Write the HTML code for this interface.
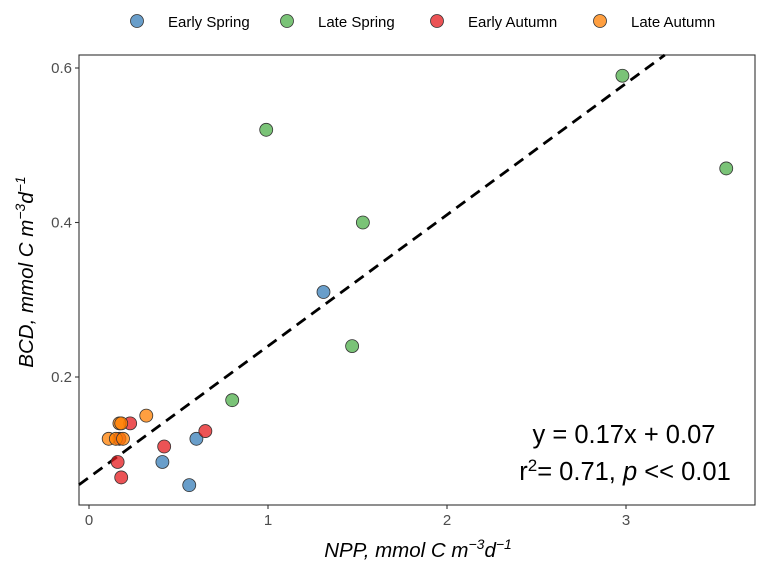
<!DOCTYPE html>
<html><head><meta charset="utf-8"><style>
body{margin:0;background:#fff;font-family:"Liberation Sans",Arial,sans-serif}
</style></head><body>
<svg id="chart" width="768" height="576" xmlns="http://www.w3.org/2000/svg" font-family="Liberation Sans, Arial, sans-serif">
<g id="legend"></g>
<rect x="79" y="55" width="676" height="450" fill="none" stroke="#333" stroke-width="1.1"/>
<g id="axes"></g>
<g id="fit"></g>
<g id="points"></g>
<text x="624" y="443" text-anchor="middle" font-size="25.5">y = 0.17x + 0.07</text>
<text x="625" y="480" text-anchor="middle" font-size="25.5">r<tspan dy="-9" font-size="17">2</tspan><tspan dy="9">= 0.71, </tspan><tspan font-style="italic">p</tspan> &lt;&lt; 0.01</text>
<text x="418" y="557" text-anchor="middle" font-size="20.5" font-style="italic">NPP, mmol C m<tspan dy="-8" font-size="14">−3</tspan><tspan dy="8">d</tspan><tspan dy="-8" font-size="14">−1</tspan></text>
<text transform="translate(33,272) rotate(-90)" text-anchor="middle" font-size="20.5" font-style="italic">BCD, mmol C m<tspan dy="-8" font-size="14">−3</tspan><tspan dy="8">d</tspan><tspan dy="-8" font-size="14">−1</tspan></text>
</svg>
<script>
const seriesNames=["Early Spring","Late Spring","Early Autumn","Late Autumn"];
const seriesColors=["#377EB8","#4DAF4A","#E41A1C","#FF7F00"];
const earlySpringX=[1.31,0.6,0.41,0.56];
const earlySpringY=[0.31,0.12,0.09,0.06];
const lateSpringX=[0.99,2.98,3.56,1.53,1.47,0.80];
const lateSpringY=[0.52,0.59,0.47,0.40,0.24,0.17];
const earlyAutumnX=[0.23,0.65,0.42,0.16,0.18,0.17];
const earlyAutumnY=[0.14,0.13,0.11,0.09,0.07,0.12];
const lateAutumnX=[0.32,0.17,0.18,0.11,0.15,0.19];
const lateAutumnY=[0.15,0.14,0.14,0.12,0.12,0.12];
const xTicks=[0,1,2,3];
const yTicks=[0.2,0.4,0.6];
const fitSlope=0.17, fitIntercept=0.07;
const NS="http://www.w3.org/2000/svg";
const X0=79,X1=755,Y0=55,Y1=505;
function sx(v){return 89+v*179;}
function sy(v){return 531.5-v*772.5;}
function mk(t,a,p){const e=document.createElementNS(NS,t);for(const k in a)e.setAttribute(k,a[k]);p.appendChild(e);return e;}
const axes=document.getElementById('axes');
xTicks.forEach(t=>{
  const l=mk('line',{x1:sx(t),x2:sx(t),y1:Y1,y2:Y1+4,stroke:'#333','stroke-width':1.1},axes);
  
  
  const tx=mk('text',{x:sx(t),y:Y1+20,'text-anchor':'middle','font-size':15,fill:'#4d4d4d'},axes);
  tx.textContent=t;
  
  
});
yTicks.forEach(t=>{
  const l=mk('line',{x1:X0-4,x2:X0,y1:sy(t),y2:sy(t),stroke:'#333','stroke-width':1.1},axes);
  
  
  const tx=mk('text',{x:X0-7,y:sy(t)+5,'text-anchor':'end','font-size':15,fill:'#4d4d4d'},axes);
  tx.textContent=t.toFixed(1);
  
  
});
const fit=document.getElementById('fit');
let xa=(X0-89)/179, ya=fitSlope*xa+fitIntercept;
let yTop=(531.5-Y0)/772.5, xb=(yTop-fitIntercept)/fitSlope;
const fl=mk('line',{x1:sx(xa),y1:sy(ya),x2:sx(xb),y2:sy(yTop),stroke:'#000','stroke-width':2.8,'stroke-dasharray':'11,7'},fit);


const pts=document.getElementById('points');
const data=[[earlySpringX,earlySpringY],[lateSpringX,lateSpringY],[earlyAutumnX,earlyAutumnY],[lateAutumnX,lateAutumnY]];
const keys=['early-spring','late-spring','early-autumn','late-autumn'];
data.forEach((d,i)=>{
  d[0].forEach((x,j)=>{
    const c=mk('circle',{cx:sx(x),cy:sy(d[1][j]),r:6.5,fill:seriesColors[i],'fill-opacity':0.75,stroke:'#333','stroke-width':0.8},pts);
    
    
  });
});
const leg=document.getElementById('legend');
const legX=[137,287,437,600];
seriesNames.forEach((n,i)=>{
  const c=mk('circle',{cx:legX[i],cy:21,r:6.5,fill:seriesColors[i],'fill-opacity':0.75,stroke:'#333','stroke-width':0.8},leg);
  
  
  const t=mk('text',{x:legX[i]+31,y:27,'font-size':15,fill:'#000'},leg);
  t.textContent=n;
  
  
});
</script>
</body></html>
